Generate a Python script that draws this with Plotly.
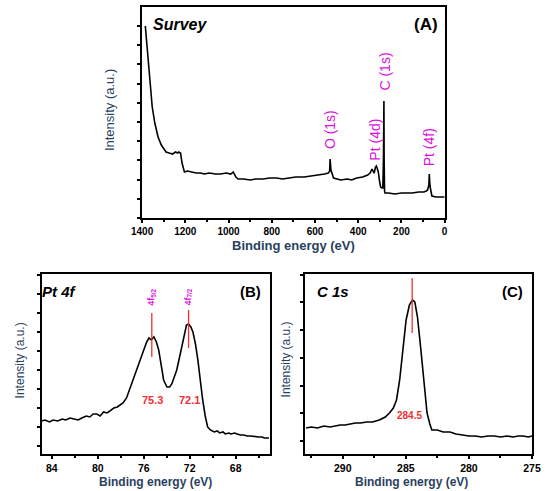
import plotly.graph_objects as go

# survey spectrum (A) - binding energy (eV) vs intensity (a.u.)
survey_ev = [1385, 1378, 1370, 1363, 1353, 1341, 1326, 1311, 1300, 1289, 1275, 1259, 1245, 1235, 1230, 1222,
             1215, 1204, 1190, 1170, 1150, 1130, 1111, 1090, 1060, 1037, 1010, 990, 978, 966, 956,
             930, 900, 874, 840, 810, 778, 750, 720, 689, 650, 615, 590, 556, 538, 532, 530, 528,
             526, 514, 500, 481, 450, 430, 407, 380, 356, 345, 336, 331, 326, 320, 316, 311, 307,
             300, 296, 290, 286, 283, 281, 280, 278, 276, 260, 230, 200, 185, 150, 120, 96, 85,
             79, 73, 71, 69, 67, 63, 59, 40, 20, 0]
survey_int = [192, 175, 155, 135, 111, 95, 81, 73, 69, 66, 65, 64, 66, 65, 66, 65,
              55, 46, 47, 46, 45, 45, 44, 45, 44, 44, 45, 44, 46, 41, 39,
              39, 38, 39, 39, 40, 40, 39, 40, 41, 41, 42, 43, 44, 45, 47, 59, 52,
              48, 40, 39, 38, 39, 38, 40, 41, 43, 45, 49, 46, 45, 51, 52, 49, 46,
              35, 31, 30, 30, 60, 117, 60, 27, 25, 25, 24, 25, 25, 25, 26, 26, 27,
              28, 33, 44, 36, 31, 24, 22, 21, 21, 21]

# Pt 4f region (B)
pt_ev = [84.9, 84.6, 84.2, 83.9, 83.5, 83.1, 82.8, 82.4, 82.07, 81.7, 81.4, 81.0, 80.7, 80.4,
         80.09, 79.8, 79.5, 79.2, 78.95, 78.6, 78.3, 78.0, 77.81, 77.5, 77.25, 76.9, 76.54,
         76.2, 75.97, 75.75, 75.55, 75.35, 75.12, 74.9, 74.7, 74.5, 74.27, 73.98, 73.75, 73.56,
         73.35, 73.13, 72.9, 72.71, 72.5, 72.28, 72.1, 71.9, 71.72, 71.5, 71.29, 71.1, 70.87,
         70.65, 70.44, 70.2, 69.87, 69.6, 69.4, 69.1, 68.9, 68.6, 68.4, 68.1, 67.89, 67.6, 67.3,
         67.0, 66.7, 66.3, 66.0, 65.7, 65.5, 65.1]
pt_int = [33, 34, 32, 34, 33, 35, 34, 36, 35, 34, 36, 38, 37, 40,
          40, 38, 42, 41, 43, 46, 47, 49, 51, 56, 64, 76, 87,
          98, 107, 112, 116, 114, 117, 112, 104, 90, 74, 67, 67, 70,
          76, 84, 96, 107, 120, 129, 130, 127, 122, 110, 94, 75, 54,
          38, 27, 24, 22, 23, 21, 22, 20, 21, 20, 21, 20, 19, 19,
          18, 18, 17, 17, 17, 16, 16]
pt_peaks = [75.3, 72.1]
pt_peak_labels = ["75.3", "72.1"]
pt_orbitals = ["4f<sub>5/2</sub>", "4f<sub>7/2</sub>"]

# C 1s region (C)
c_ev = [292.9, 292.5, 292.0, 291.5, 291.0, 290.6, 290.2, 289.8, 289.4, 289.0, 288.6, 288.1,
        287.65, 287.1, 286.63, 286.3, 285.99, 285.74, 285.49, 285.23, 284.98, 284.72, 284.47,
        284.29, 284.08, 283.83, 283.58, 283.32, 283.1, 282.94, 282.5, 282.05, 281.5, 281.03,
        280.5, 280.02, 279.5, 279.0, 278.5, 278.0, 277.47, 277.0, 276.5, 276.1, 275.7, 275.3,
        275.0]
c_int = [26, 27, 26, 28, 27, 28, 29, 29, 30, 31, 31, 32,
         32, 34, 37, 41, 46, 54, 74, 107, 134, 149, 154,
         152, 137, 107, 71, 41, 30, 24, 24, 22, 22, 20,
         19, 18, 18, 17, 18, 18, 17, 18, 17, 18, 18, 17,
         18]
c_peak = 284.5

font = "Arial, Liberation Sans, sans-serif"
magenta = "#dd11dd"
red = "#f03030"

fig = go.Figure()
fig.add_trace(go.Scatter(x=survey_ev, y=survey_int, mode="lines",
                         line=dict(color="black", width=1.6), xaxis="x", yaxis="y"))
fig.add_trace(go.Scatter(x=pt_ev, y=pt_int, mode="lines",
                         line=dict(color="black", width=1.6), xaxis="x2", yaxis="y2"))
fig.add_trace(go.Scatter(x=c_ev, y=c_int, mode="lines",
                         line=dict(color="black", width=1.6), xaxis="x3", yaxis="y3"))

# red peak markers
for p, top, bot in zip(pt_peaks, [141, 144], [97, 106]):
    fig.add_trace(go.Scatter(x=[p, p], y=[bot, top], mode="lines",
                             line=dict(color=red, width=1.3), xaxis="x2", yaxis="y2"))
fig.add_trace(go.Scatter(x=[c_peak, c_peak], y=[121, 176], mode="lines",
                         line=dict(color=red, width=1.3), xaxis="x3", yaxis="y3"))

ax = dict(showgrid=False, zeroline=False, showline=True, mirror=True, linecolor="black",
          linewidth=2, ticks="outside", tickcolor="black", ticklen=3, tickwidth=1.5,
          tickfont=dict(family=font, size=10, color="black", weight="bold"))
yax = dict(ax, showticklabels=False, ticklen=3)

fig.update_layout(
    width=550, height=491, margin=dict(l=0, r=0, t=0, b=0),
    paper_bgcolor="white", plot_bgcolor="white", showlegend=False,
    xaxis=dict(ax, domain=[0.2473, 0.8182], range=[1400, 0], tickvals=[1400, 1200, 1000, 800, 600, 400, 200, 0],
               minor=dict(dtick=100, ticks="outside", ticklen=2, tickcolor="black")),
    yaxis=dict(yax, domain=[0.556, 0.9857], range=[0, 211], tick0=0, dtick=19.2),
    xaxis2=dict(ax, domain=[0.0587, 0.4878], range=[84.85, 65.05], tickvals=[84, 80, 76, 72, 68],
                minor=dict(dtick=2, ticks="outside", ticklen=2, tickcolor="black"), anchor="y2",
                tickfont=dict(family=font, size=10.5, color="black", weight="bold")),
    yaxis2=dict(yax, domain=[0.0754, 0.442], range=[0, 180], tick0=8, dtick=19, anchor="x2"),
    xaxis3=dict(ax, domain=[0.5545, 0.9831], range=[293, 275], tickvals=[290, 285, 280, 275],
                minor=dict(dtick=2.5, ticks="outside", ticklen=2, tickcolor="black"), anchor="y3",
                tickfont=dict(family=font, size=10.5, color="black", weight="bold")),
    yaxis3=dict(yax, domain=[0.0754, 0.442], range=[0, 180], tick0=13, dtick=27.7, anchor="x3"),
)

ann = []
mid = dict(xref="paper", yref="paper", xanchor="center", yanchor="middle", showarrow=False)
# axis titles
ann.append(dict(mid, text="Binding energy (eV)", x=0.533, y=0.501,
                font=dict(family=font, size=13, weight="bold")))
ann.append(dict(mid, text="Intensity (a.u.)", x=0.187, y=0.776, textangle=-90,
                font=dict(family=font, size=13)))
ann.append(dict(mid, text="Binding energy (eV)", x=0.273, y=0.019,
                font=dict(family=font, size=12, weight="bold")))
ann.append(dict(mid, text="Intensity (a.u.)", x=0.016, y=0.267, textangle=-90,
                font=dict(family=font, size=12)))
ann.append(dict(mid, text="Binding energy (eV)", x=0.755, y=0.019,
                font=dict(family=font, size=12, weight="bold")))
ann.append(dict(mid, text="Intensity (a.u.)", x=0.518, y=0.267, textangle=-90,
                font=dict(family=font, size=12)))

# panel labels
for txt, xr, yr, x, y, anc, style, size in [
        ("Survey", "x domain", "y domain", 0.03, 0.915, "left", "italic", 16),
        ("(A)", "x domain", "y domain", 0.985, 0.915, "right", "normal", 17),
        ("Pt 4f", "x2 domain", "y2 domain", -0.01, 0.9, "left", "italic", 15),
        ("(B)", "x2 domain", "y2 domain", 0.97, 0.9, "right", "normal", 15),
        ("C 1s", "x3 domain", "y3 domain", 0.045, 0.9, "left", "italic", 15),
        ("(C)", "x3 domain", "y3 domain", 0.97, 0.9, "right", "normal", 15)]:
    ann.append(dict(text=txt, x=x, y=y, xref=xr, yref=yr, xanchor=anc, yanchor="middle", showarrow=False,
                    font=dict(family=font, size=size, weight="bold", style=style, color="black")))

# survey peak labels
for txt, x, y in [("O (1s)", 530, 88), ("Pt (4d)", 324, 78), ("C (1s)", 278, 146), ("Pt (4f)", 71, 71)]:
    ann.append(dict(text=txt, x=x, y=y, xref="x", yref="y", textangle=-90, showarrow=False,
                    xanchor="center", yanchor="middle", font=dict(family=font, size=14, color=magenta)))

# Pt 4f labels
for p, lab, orb in zip(pt_peaks, pt_peak_labels, pt_orbitals):
    ann.append(dict(text=orb, x=p, y=157, xref="x2", yref="y2", textangle=-90, showarrow=False,
                    font=dict(family=font, size=9, color=magenta, weight="bold")))
    ann.append(dict(text=lab, x=p - 0.1, y=54, xref="x2", yref="y2", showarrow=False,
                    font=dict(family=font, size=11, color=red, weight="bold")))
ann.append(dict(text="284.5", x=284.72, y=38, xref="x3", yref="y3", showarrow=False,
                font=dict(family=font, size=10, color=red, weight="bold")))

fig.update_layout(annotations=ann)
fig.write_html("out.html", config={"displayModeBar": False},
               post_script="document.body.style.margin='0';document.body.style.overflow='hidden';")
